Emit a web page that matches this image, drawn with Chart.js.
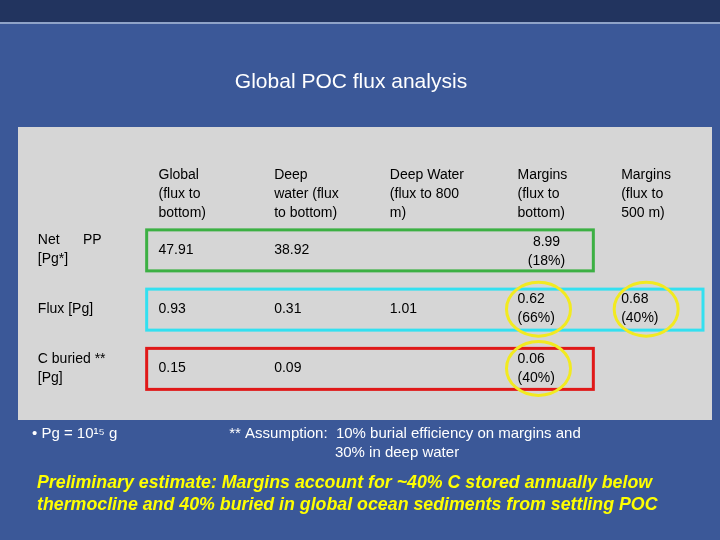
<!DOCTYPE html>
<html><head><meta charset="utf-8">
<script src="https://cdn.jsdelivr.net/npm/chart.js@4/dist/chart.umd.min.js"></script>
<style>html,body{margin:0;padding:0;background:#3d5b9b}#w{width:720px;height:540px;position:relative}</style>
</head><body><div id="w"><canvas id="c" width="720" height="540"></canvas></div>
<script>
const columns = ["label","global","deep","deep800","margins","margins500"];
const rows = ["header","netpp","flux","cburied"];
const headerCells = ["", "Global\n(flux to\nbottom)", "Deep\nwater (flux\nto bottom)", "Deep Water\n(flux to 800\nm)", "Margins\n(flux to\nbottom)", "Margins\n(flux to\n500 m)"];
const netPPCells = ["Net      PP\n[Pg*]", "47.91", "38.92", "", "", ""];
const fluxCells = ["Flux [Pg]", "0.93", "0.31", "1.01", "0.62\n(66%)", "0.68\n(40%)"];
const cBuriedCells = ["C buried **\n[Pg]", "0.15", "0.09", "", "0.06\n(40%)", ""];
const netPPMargins = "8.99\n(18%)";
const title = "Global POC flux analysis";
const footnoteLeft = "• Pg = 10¹⁵ g";
const footnote = ["** Assumption:  10% burial efficiency on margins and", "30% in deep water"];
const conclusion = ["Preliminary estimate: Margins account for ~40% C stored annually below", "thermocline and 40% buried in global ocean sediments from settling POC"];
const tableRows = [headerCells, netPPCells, fluxCells, cBuriedCells];

const tablePlugin = {
  id:'tbl',
  beforeDraw(chart){
    const c = chart.ctx;
    c.save();
    c.fillStyle = '#3b5898'; c.fillRect(0,0,720,540);
    c.fillStyle = '#22345f'; c.fillRect(0,0,720,22);
    c.fillStyle = '#8fa3c8'; c.fillRect(0,22,720,2);
    c.fillStyle = '#d6d6d6'; c.fillRect(18,127,694,293);
    c.restore();
  },
  afterDraw(chart){
    const c = chart.ctx, xs = chart.scales.x, ys = chart.scales.y;
    const cw = xs.getPixelForValue(1) - xs.getPixelForValue(0);
    c.save();
    c.font = '21px "Liberation Sans", Arial, sans-serif';
    c.fillStyle = '#fff'; c.textAlign='center'; c.textBaseline='middle';
    c.fillText(title, 351, 82);
    c.font = '14px "Liberation Sans", Arial, sans-serif';
    c.fillStyle = '#000'; c.textAlign='left';
    const drawLines = (txt, x, y, align) => {
      const ls = txt.split('\n'); c.textAlign = align||'left';
      ls.forEach((l,i)=>c.fillText(l, x, y + (i-(ls.length-1)/2)*19));
    };
    tableRows.forEach((r,ri)=>{
      const y = ys.getPixelForValue(ri) + (ri===0?4:0);
      r.forEach((t,ci)=>{
        if(!t) return;
        const x = xs.getPixelForValue(ci) - (ci===0?38:(ci===4?21:33));
        drawLines(t, x, y);
      });
    });
    drawLines(netPPMargins, xs.getPixelForValue(4)+8, ys.getPixelForValue(1)+2, 'center');
    c.lineWidth = 3;
    const left = xs.getPixelForValue(1) - cw/2 + 13;
    const right4 = xs.getPixelForValue(4) + cw/2 - 3;
    const right5 = xs.getPixelForValue(5) + cw/2 - 9;
    const box = (col, ri, r) => { const y=ys.getPixelForValue(ri); c.strokeStyle=col; c.strokeRect(left, y-20, r-left, 41); };
    box('#3cb043',1,right4); box('#33e0f0',2,right5); box('#e01818',3,right4);
    c.strokeStyle='#f2ea20';
    const ell=(ci,ri,dx)=>{c.beginPath();c.ellipse(xs.getPixelForValue(ci)+dx, ys.getPixelForValue(ri), 32, 27, 0, 0, Math.PI*2);c.stroke();};
    ell(4,2,0); ell(5,2,-8); ell(4,3,0);
    c.fillStyle='#fff'; c.textAlign='left';
    c.font = '15px "Liberation Sans", Arial, sans-serif';
    c.fillText(footnoteLeft, 32, 434);
    c.textAlign='center';
    c.fillText(footnote[0], 405, 434); c.fillText(footnote[1], 397, 453);
    c.fillStyle='#ffff00'; c.textAlign='left';
    c.font = 'italic bold 17.8px "Liberation Sans", Arial, sans-serif';
    c.fillText(conclusion[0], 37, 483); c.fillText(conclusion[1], 37, 505);
    c.restore();
  }
};
new Chart(document.getElementById('c'), {
  type:'scatter',
  data:{datasets:[{data:[], pointRadius:0}]},
  options:{
    responsive:false, animation:false,
    layout:{padding:{left:18, right:8, top:161, bottom:142}},
    plugins:{legend:{display:false}, tooltip:{enabled:false}},
    scales:{
      x:{type:'linear', min:-0.5, max:columns.length-0.5, display:false},
      y:{type:'linear', min:-0.5, max:rows.length-0.5, reverse:true, display:false}
    }
  },
  plugins:[tablePlugin]
});
</script></body></html>
